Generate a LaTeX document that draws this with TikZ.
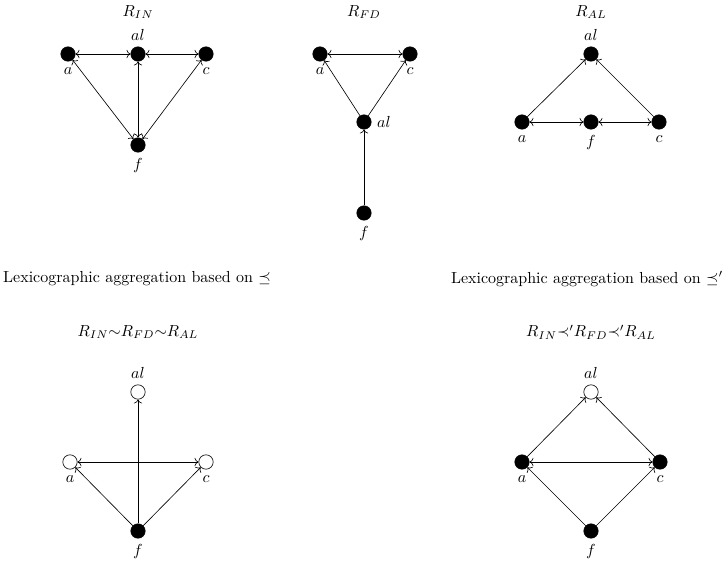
\documentclass[tikz,border=0pt]{standalone}
\usepackage{amsmath,amssymb}
\usetikzlibrary{arrows.meta,positioning}
\begin{document}
\begin{tikzpicture}[
    x=0.625pt, y=-0.625pt,
    vtx/.style={circle, draw, fill=black, minimum size=9pt, inner sep=0pt},
    hollow/.style={circle, draw, fill=white, minimum size=9pt, inner sep=0pt},
    title/.style={font=\normalsize},
    bi/.style={<->, thin},
    uni/.style={->, thin}
]
    \useasboundingbox (0,0) rectangle (727,562);

    % R_IN
    \node[title] (tIN) at (138,12) {$R_{IN}$};
    \node[vtx, label=above:$al$] (INal) at (138,54) {};
    \node[vtx, label=below:$a$] (INa) at (68,54) {};
    \node[vtx, label=below:$c$] (INc) at (206,54) {};
    \node[vtx, label=below:$f$] (INf) at (138,145) {};
    \draw[bi] (INa) -- (INal);
    \draw[bi] (INal) -- (INc);
    \draw[bi] (INa) -- (INf);
    \draw[bi] (INal) -- (INf);
    \draw[bi] (INc) -- (INf);

    % R_FD
    \node[title] (tFD) at (364,12) {$R_{FD}$};
    \node[vtx, label=below:$a$] (FDa) at (320,54) {};
    \node[vtx, label=below:$c$] (FDc) at (410,54) {};
    \node[vtx, label=right:$al$] (FDal) at (364,122) {};
    \node[vtx, label=below:$f$] (FDf) at (364,213) {};
    \draw[bi] (FDa) -- (FDc);
    \draw[uni] (FDal) -- (FDa);
    \draw[uni] (FDal) -- (FDc);
    \draw[uni] (FDf) -- (FDal);

    % R_AL
    \node[title] (tAL) at (591,12) {$R_{AL}$};
    \node[vtx, label=above:$al$] (ALal) at (591,54) {};
    \node[vtx, label=below:$a$] (ALa) at (522,122) {};
    \node[vtx, label=below:$f$] (ALf) at (591,122) {};
    \node[vtx, label=below:$c$] (ALc) at (659,122) {};
    \draw[uni] (ALa) -- (ALal);
    \draw[uni] (ALc) -- (ALal);
    \draw[bi] (ALa) -- (ALf);
    \draw[bi] (ALf) -- (ALc);

    % Aggregations
    \node (lexL) at (137,279) {Lexicographic aggregation based on $\preceq$};
    \node (lexR) at (587,279) {Lexicographic aggregation based on $\preceq'$};
    \node (resL) at (138,332) {$R_{IN}{\sim}R_{FD}{\sim}R_{AL}$};
    \node (resR) at (591,332) {$R_{IN}{\prec'}R_{FD}{\prec'}R_{AL}$};

    % Left result
    \node[hollow, label=above:$al$] (Lal) at (138,392) {};
    \node[hollow, label=below:$a$] (La) at (70,462) {};
    \node[hollow, label=below:$c$] (Lc) at (206,462) {};
    \node[vtx, label=below:$f$] (Lf) at (138,531) {};
    \draw[uni] (Lf) -- (Lal);
    \draw[bi] (La) -- (Lc);
    \draw[uni] (Lf) -- (La);
    \draw[uni] (Lf) -- (Lc);

    % Right result
    \node[hollow, label=above:$al$] (Ral) at (591,392) {};
    \node[vtx, label=below:$a$] (Ra) at (522,462) {};
    \node[vtx, label=below:$c$] (Rc) at (660,462) {};
    \node[vtx, label=below:$f$] (Rf) at (591,531) {};
    \draw[uni] (Ra) -- (Ral);
    \draw[uni] (Rc) -- (Ral);
    \draw[bi] (Ra) -- (Rc);
    \draw[uni] (Rf) -- (Ra);
    \draw[uni] (Rf) -- (Rc);
\end{tikzpicture}
\end{document}
